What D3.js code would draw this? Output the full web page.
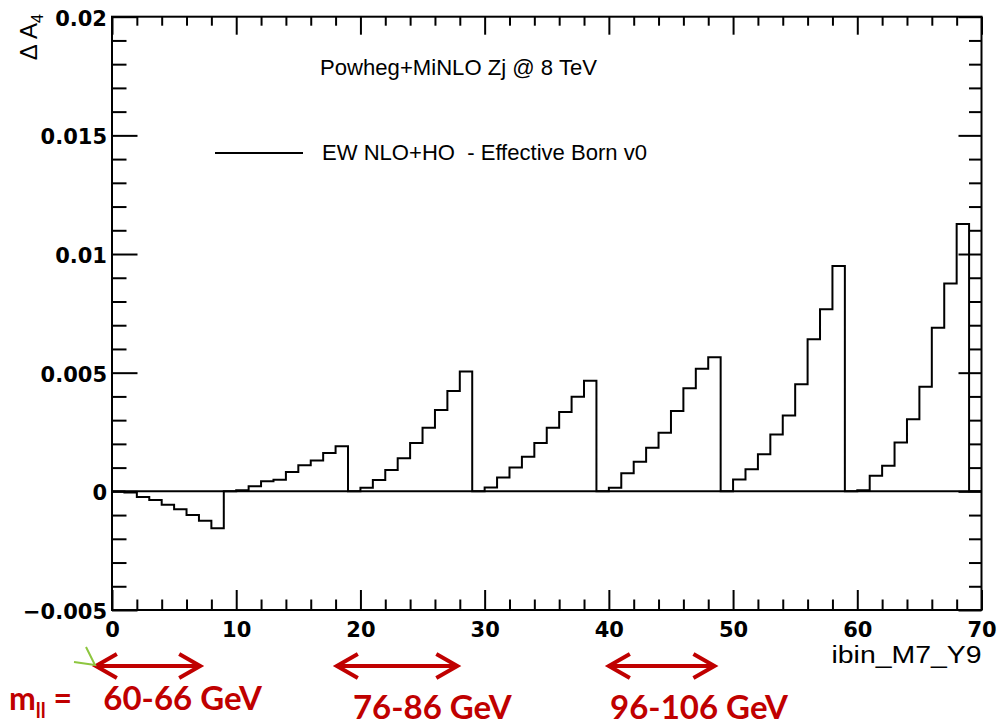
<!DOCTYPE html>
<html>
<head>
<meta charset="utf-8">
<script src="https://cdn.jsdelivr.net/npm/d3@7/dist/d3.min.js"></script>
<style>
  html, body { margin: 0; padding: 0; background: #fff; }
  svg { display: block; }
  text { white-space: pre; }
</style>
</head>
<body>
<svg id="chart" width="999" height="725"></svg>
<script>
// ΔA4 per analysis bin (7 mass bins x 10 rapidity slots), EW NLO+HO - Effective Born v0
const binValues = [
  // mass bin 1 (bins 0-9)
  -0.00001, -0.00005, -0.00024, -0.00037, -0.00056, -0.00075, -0.00100, -0.00124, -0.00156, 0,
  // mass bin 2 (bins 10-19)
  0.00005, 0.00021, 0.00042, 0.00049, 0.00081, 0.00110, 0.00130, 0.00162, 0.00190, 0,
  // mass bin 3 (bins 20-29)
  0.00015, 0.00048, 0.00090, 0.00139, 0.00204, 0.00268, 0.00343, 0.00423, 0.00505, 0,
  // mass bin 4 (bins 30-39)
  0.00016, 0.00058, 0.00100, 0.00146, 0.00204, 0.00268, 0.00334, 0.00399, 0.00466, 0,
  // mass bin 5 (bins 40-49)
  0.00015, 0.00076, 0.00125, 0.00184, 0.00247, 0.00339, 0.00434, 0.00517, 0.00565, 0,
  // mass bin 6 (bins 50-59)
  0.00050, 0.00093, 0.00156, 0.00239, 0.00320, 0.00451, 0.00641, 0.00767, 0.00949, 0,
  // mass bin 7 (bins 60-69)
  0.00005, 0.00066, 0.00108, 0.00206, 0.00304, 0.00441, 0.00689, 0.00876, 0.01127, 0
];

const xMajorTicks = [0, 10, 20, 30, 40, 50, 60, 70];
const xTickLabels = ["0", "10", "20", "30", "40", "50", "60", "70"];
const yMajorTicks = [-0.005, 0, 0.005, 0.01, 0.015, 0.02];
const yTickLabels = ["\u22120.005", "0", "0.005", "0.01", "0.015", "0.02"];

const titleText = "Powheg+MiNLO Zj @ 8 TeV";
const legendText = "EW NLO+HO  - Effective Born v0";
const xAxisTitle = "ibin_M7_Y9";
const massRanges = ["60-66 GeV", "76-86 GeV", "96-106 GeV"];

// ---- layout ----
const svg = d3.select("#chart");
const L = 112, R = 981.5, T = 16.7, B = 610;

const x = d3.scaleLinear().domain([0, 70]).range([L, R]);
const y = d3.scaleLinear().domain([-0.005, 0.02]).range([B, T]);

svg.append("rect").attr("width", 999).attr("height", 725).attr("fill", "#fff");

const axisFont = "'DejaVu Sans', sans-serif";
const textFont = "'Liberation Sans', Arial, sans-serif";

// minor tick positions
const xMinor = d3.range(0, 71, 2).filter(v => v % 10 !== 0);
const yMinor = d3.range(-5, 21).map(v => v / 1000).filter(v => Math.abs((v * 1000) % 5) > 1e-9);

function styleAxis(g) {
  g.select(".domain").remove();
  g.selectAll(".tick line").attr("stroke", "#000").attr("stroke-width", 2);
}

// bottom axis
svg.append("g").attr("transform", `translate(0,${B})`)
  .call(d3.axisBottom(x).tickValues(xMajorTicks).tickSize(-20).tickPadding(12)
    .tickFormat((d, i) => xTickLabels[i]))
  .call(styleAxis)
  .call(g => g.selectAll("text").attr("font-family", axisFont).attr("font-weight", "bold")
    .attr("font-size", 21).attr("fill", "#000"));
svg.append("g").attr("transform", `translate(0,${B})`)
  .call(d3.axisBottom(x).tickValues(xMinor).tickSize(-10.5).tickFormat(""))
  .call(styleAxis);

// top axis
svg.append("g").attr("transform", `translate(0,${T})`)
  .call(d3.axisTop(x).tickValues(xMajorTicks).tickSize(-18).tickFormat(""))
  .call(styleAxis);
svg.append("g").attr("transform", `translate(0,${T})`)
  .call(d3.axisTop(x).tickValues(xMinor).tickSize(-9).tickFormat(""))
  .call(styleAxis);

// left axis
svg.append("g").attr("transform", `translate(${L},0)`)
  .call(d3.axisLeft(y).tickValues(yMajorTicks).tickSize(-25.5).tickPadding(5)
    .tickFormat((d, i) => yTickLabels[i]))
  .call(styleAxis)
  .call(g => g.selectAll("text").attr("font-family", axisFont).attr("font-weight", "bold")
    .attr("font-size", 21).attr("fill", "#000").attr("dy", "0.4em"));
svg.append("g").attr("transform", `translate(${L},0)`)
  .call(d3.axisLeft(y).tickValues(yMinor).tickSize(-14.5).tickFormat(""))
  .call(styleAxis);

// right axis
svg.append("g").attr("transform", `translate(${R},0)`)
  .call(d3.axisRight(y).tickValues(yMajorTicks).tickSize(-23).tickFormat(""))
  .call(styleAxis);
svg.append("g").attr("transform", `translate(${R},0)`)
  .call(d3.axisRight(y).tickValues(yMinor).tickSize(-12.5).tickFormat(""))
  .call(styleAxis);

// zero line
svg.append("line")
  .attr("x1", x(0)).attr("x2", x(70)).attr("y1", y(0)).attr("y2", y(0))
  .attr("stroke", "#000").attr("stroke-width", 2);

// histogram outline
const stepPoints = binValues.map((v, i) => [i, v]).concat([[70, binValues[binValues.length - 1]]]);
const step = d3.line().x(d => x(d[0])).y(d => y(d[1])).curve(d3.curveStepAfter);
svg.append("path").attr("d", step(stepPoints))
  .attr("fill", "none").attr("stroke", "#000").attr("stroke-width", 2);

// frame
svg.append("rect").attr("x", L).attr("y", T).attr("width", R - L).attr("height", B - T)
  .attr("fill", "none").attr("stroke", "#000").attr("stroke-width", 2);

// y-axis title (rotated)
const yTitle = svg.append("text")
  .attr("transform", `translate(37,14) rotate(-90)`)
  .attr("text-anchor", "end")
  .attr("font-family", textFont)
  .attr("font-size", 24).attr("fill", "#000");
yTitle.append("tspan").text("\u0394 A");
yTitle.append("tspan").attr("font-size", 16).attr("dy", 6).text("4");

// x-axis title
svg.append("text")
  .attr("x", R).attr("y", 663).attr("text-anchor", "end")
  .attr("font-family", textFont)
  .attr("font-size", 23).attr("fill", "#000")
  .attr("textLength", 150).attr("lengthAdjust", "spacingAndGlyphs")
  .text(xAxisTitle);

// title
svg.append("text")
  .attr("x", 320).attr("y", 75)
  .attr("font-family", textFont)
  .attr("font-size", 22.5).attr("fill", "#000")
  .attr("textLength", 277).attr("lengthAdjust", "spacingAndGlyphs")
  .text(titleText);

// legend
svg.append("line").attr("x1", 215).attr("x2", 303).attr("y1", 153).attr("y2", 153)
  .attr("stroke", "#000").attr("stroke-width", 2);
svg.append("text")
  .attr("x", 322).attr("y", 160)
  .attr("font-family", textFont)
  .attr("font-size", 22.5).attr("fill", "#000")
  .attr("textLength", 325).attr("lengthAdjust", "spacingAndGlyphs")
  .text(legendText);

// mass-range annotations below the axis
const red = "#C00000";
const annFont = "Lato, 'Open Sans', sans-serif";
const arrowSpans = [[-1.3, 7.1], [18.1, 27.8], [40.0, 48.5]];
const labelStarts = [-0.7, 19.4, 40.1];
const labelBaselines = [710, 719, 719];
const arrowY = 666;

arrowSpans.forEach(([a, b]) => {
  const x1 = x(a), x2 = x(b);
  const p = d3.path();
  p.moveTo(x1, arrowY); p.lineTo(x2, arrowY);
  p.moveTo(x1 + 21, arrowY - 12); p.lineTo(x1, arrowY); p.lineTo(x1 + 21, arrowY + 12);
  p.moveTo(x2 - 21, arrowY - 12); p.lineTo(x2, arrowY); p.lineTo(x2 - 21, arrowY + 12);
  svg.append("path").attr("d", p.toString())
    .attr("fill", "none").attr("stroke", red).attr("stroke-width", 4)
    .attr("stroke-linejoin", "miter");
});

massRanges.forEach((label, i) => {
  svg.append("text")
    .attr("x", x(labelStarts[i])).attr("y", labelBaselines[i])
    .attr("font-family", annFont).attr("font-weight", "bold")
    .attr("font-size", 33).attr("fill", red)
    .text(label);
});

const mll = svg.append("text")
  .attr("x", 9).attr("y", 710)
  .attr("font-family", annFont).attr("font-weight", "bold")
  .attr("font-size", 32).attr("fill", red);
mll.append("tspan").text("m");
mll.append("tspan").attr("font-size", 20).attr("dy", 8).text("ll");
mll.append("tspan").attr("dy", -8).text(" =");

// small green tick mark near the origin
svg.append("path").attr("d", "M74,662 L95,665 L86,647")
  .attr("fill", "none").attr("stroke", "#8DC63F").attr("stroke-width", 2);
</script>
</body>
</html>
